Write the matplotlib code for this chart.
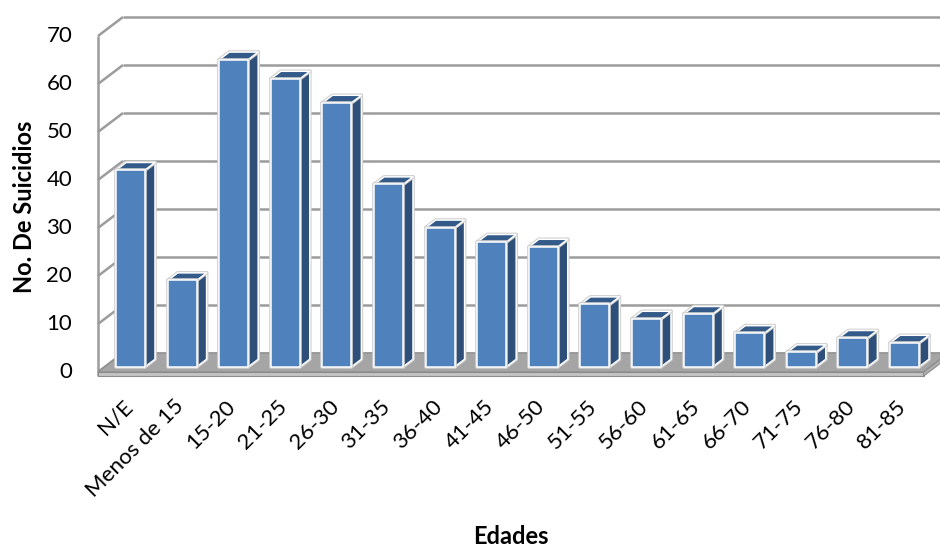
import matplotlib
matplotlib.use("Agg")
import matplotlib.pyplot as plt
from matplotlib.patches import Polygon
import matplotlib.patheffects as pe

plt.rcParams['font.family'] = ['Lato', 'DejaVu Sans']

# Data
categories = ["N/E", "Menos de 15", "15-20", "21-25", "26-30", "31-35", "36-40",
              "41-45", "46-50", "51-55", "56-60", "61-65", "66-70", "71-75",
              "76-80", "81-85"]
suicidios = [41, 18, 64, 60, 55, 38, 29, 26, 25, 13, 10, 11, 7, 3, 6, 5]
y_ticks = [0, 10, 20, 30, 40, 50, 60, 70]
x_title = "Edades"
y_title = "No. De Suicidios"

# Oblique projection used to fake the 3-D look (data units)
DX, DY = 0.4845, 3.958        # shift of the back wall relative to the front plane
T_FRONT, T_BACK = 0.27, 0.67  # depth of bar front and back faces
HALF_W = 0.28                 # half width of a bar
FLOOR_T = 0.85                # floor slab thickness

n = len(categories)
x0, x1 = -0.5, n - 0.5
ymax = y_ticks[-1]


def proj(u, v, t):
    return (u + DX * t, v + DY * t)


fig = plt.figure(figsize=(9.4, 5.46), dpi=100)
ax = fig.add_axes([0, 0, 1, 1])
ax.set_xlim(-2.399, 15.818)
ax.set_ylim(-36.25, 77.5)
ax.axis("off")

grid_kw = dict(color="#9c9c9c", lw=1.8, solid_capstyle="butt", zorder=1)

# Walls: gridlines on the side wall and the back wall
for v in y_ticks:
    a = proj(x0, v, 0)
    b = proj(x0, v, 1)
    ax.plot([a[0], b[0]], [a[1], b[1]], **grid_kw)
    c = proj(x1 + 1.0, v, 1)
    ax.plot([b[0], c[0]], [b[1], c[1]], **grid_kw)
# Front edge of the side wall
a = proj(x0, -FLOOR_T, 0)
b = proj(x0, ymax, 0)
ax.plot([a[0], b[0]], [a[1], b[1]], **grid_kw)

# Floor slab
floor_top = [proj(x0, 0, 0), proj(x1, 0, 0), proj(x1, 0, 1), proj(x0, 0, 1)]
floor_front = [proj(x0, 0, 0), proj(x1, 0, 0), proj(x1, -FLOOR_T, 0), proj(x0, -FLOOR_T, 0)]
floor_side = [proj(x1, 0, 0), proj(x1, 0, 1), proj(x1, -FLOOR_T, 1), proj(x1, -FLOOR_T, 0)]
ax.add_patch(Polygon(floor_top, closed=True, fc="#a5a5a5", ec="#8c8c8c", lw=0.8, zorder=2))
ax.add_patch(Polygon(floor_front, closed=True, fc="#c4c4c4", ec="#8c8c8c", lw=0.8, zorder=2))
ax.add_patch(Polygon(floor_side, closed=True, fc="#b0b0b0", ec="#8c8c8c", lw=0.8, zorder=2))

# Bars
glow = [pe.Stroke(linewidth=2.6, foreground="#cfcfcf"), pe.Normal()]
for i, h in enumerate(suicidios):
    l, r = i - HALF_W, i + HALF_W
    front = [proj(l, 0, T_FRONT), proj(r, 0, T_FRONT), proj(r, h, T_FRONT), proj(l, h, T_FRONT)]
    side = [proj(r, 0, T_FRONT), proj(r, 0, T_BACK), proj(r, h, T_BACK), proj(r, h, T_FRONT)]
    top = [proj(l, h, T_FRONT), proj(r, h, T_FRONT), proj(r, h, T_BACK), proj(l, h, T_BACK)]
    for poly, fc in ((side, "#2d4f7a"), (top, "#345a8a"), (front, "#4f81bd")):
        p = Polygon(poly, closed=True, fc=fc, ec="white", lw=1.1, joinstyle="round", zorder=3)
        p.set_path_effects(glow)
        ax.add_patch(p)

# Value axis labels
for v in y_ticks:
    ax.text(x0 - 0.5, v, str(v), ha="right", va="center", fontsize=16, color="black")

# Category labels
for i, name in enumerate(categories):
    ax.text(i - 0.03, -5.0, name, ha="right", va="top", rotation=45,
            rotation_mode="anchor", fontsize=16, color="black")

# Axis titles
ax.text(7.5, -34.2, x_title, ha="center", va="center", fontsize=17, fontweight="bold")
ax.text(-1.93, 34.4, y_title, ha="center", va="center", rotation=90, fontsize=17,
        fontweight="bold")

fig.savefig("out.png", dpi=100)
